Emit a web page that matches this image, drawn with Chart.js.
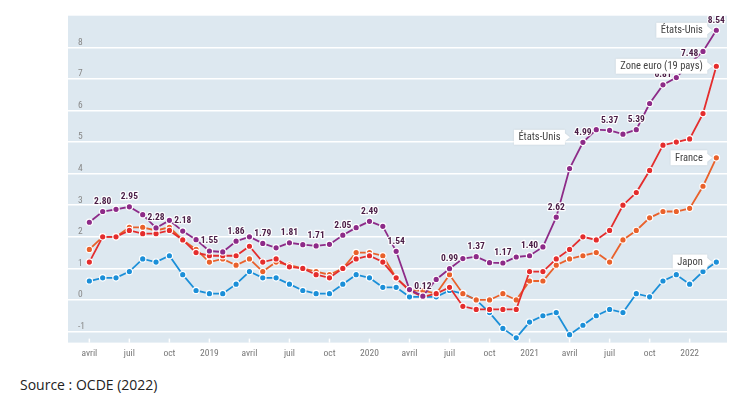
<!DOCTYPE html>
<html>
<head>
<meta charset="utf-8">
<script src="https://cdn.jsdelivr.net/npm/chart.js@4"></script>
<style>
  body { margin: 0; background: #fff; width: 752px; height: 396px; overflow: hidden; position: relative; }
  #wrap { position: absolute; left: 0; top: 0; width: 752px; height: 372px; }
  #source { position: absolute; left: 20px; top: 375px; font: 14px "Open Sans", sans-serif; color: #222; }
</style>
</head>
<body>
<div id="wrap"><canvas id="inflationChart" width="752" height="372"></canvas></div>
<div id="source">Source : OCDE (2022)</div>
<script>
// monthly, avril 2018 -> mars 2022
const months = Array.from({ length: 48 }, (_, i) => i);
const tickLabels = ['avril', 'juil', 'oct', '2019', 'avril', 'juil', 'oct', '2020',
  'avril', 'juil', 'oct', '2021', 'avril', 'juil', 'oct', '2022'];

const usa = [2.46, 2.80, 2.87, 2.95, 2.70, 2.28, 2.52, 2.18, 1.91,
  1.55, 1.52, 1.86, 2.00, 1.79, 1.65, 1.81, 1.75, 1.71, 1.76, 2.05, 2.29,
  2.49, 2.33, 1.54, 0.33, 0.12, 0.65, 0.99, 1.31, 1.37, 1.18, 1.17, 1.36,
  1.40, 1.68, 2.62, 4.16, 4.99, 5.39, 5.37, 5.25, 5.39, 6.22, 6.81, 7.04,
  7.48, 7.87, 8.54];
const euro = [1.2, 2.0, 2.0, 2.2, 2.1, 2.1, 2.2, 1.9, 1.5,
  1.4, 1.4, 1.4, 1.7, 1.2, 1.3, 1.05, 1.0, 0.8, 0.7, 1.0, 1.3,
  1.4, 1.2, 0.7, 0.3, 0.1, 0.2, 0.4, -0.2, -0.3, -0.3, -0.3, -0.3,
  0.9, 0.9, 1.3, 1.6, 2.0, 1.9, 2.2, 3.0, 3.4, 4.1, 4.9, 5.0,
  5.1, 5.9, 7.4];
const france = [1.6, 2.0, 2.0, 2.3, 2.3, 2.2, 2.3, 1.9, 1.6,
  1.2, 1.3, 1.1, 1.3, 0.9, 1.2, 1.1, 1.0, 0.9, 0.8, 1.0, 1.5,
  1.5, 1.4, 0.7, 0.3, 0.3, 0.2, 0.8, 0.2, 0.0, 0.0, 0.2, 0.0,
  0.6, 0.6, 1.1, 1.3, 1.4, 1.5, 1.2, 1.9, 2.2, 2.6, 2.8, 2.8,
  2.9, 3.6, 4.5];
const japan = [0.6, 0.7, 0.7, 0.9, 1.3, 1.2, 1.4, 0.8, 0.3,
  0.2, 0.2, 0.5, 0.9, 0.7, 0.7, 0.5, 0.3, 0.2, 0.2, 0.5, 0.8,
  0.7, 0.4, 0.4, 0.1, 0.1, 0.1, 0.3, 0.2, 0.0, -0.4, -0.9, -1.2,
  -0.7, -0.5, -0.4, -1.1, -0.8, -0.5, -0.3, -0.4, 0.2, 0.1, 0.6, 0.8,
  0.5, 0.9, 1.2];

// US values written on the chart (every other month)
const usLabelIdx = [1, 3, 5, 7, 9, 11, 13, 15, 17, 19, 21, 23, 25, 27, 29, 31,
  33, 35, 37, 39, 41, 43, 45, 47];

const seriesNames = ['États-Unis', 'Zone euro (19 pays)', 'France', 'Japon'];
const colors = ['#8d2b88', '#e42d2d', '#e9612b', '#1b8fd8'];

const bgColor = '#dde8f0';
const narrow = '"Liberation Sans Narrow", "Roboto Condensed", Roboto, sans-serif';

const toXY = arr => arr.map((v, i) => ({ x: months[i], y: v }));

const bgPlugin = {
  id: 'bg',
  beforeDraw(chart) {
    const { ctx, chartArea: a } = chart;
    ctx.save();
    ctx.fillStyle = bgColor;
    ctx.fillRect(a.left, a.top, a.right - a.left, a.bottom - a.top);
    ctx.restore();
  },
  beforeDatasetsDraw(chart) {
    const { ctx, chartArea: a, scales } = chart;
    ctx.save();
    ctx.strokeStyle = '#fff';
    ctx.lineWidth = 1.5;
    scales.x.ticks.forEach(t => {
      const px = scales.x.getPixelForValue(t.value);
      ctx.beginPath();
      ctx.moveTo(px, a.bottom - 4);
      ctx.lineTo(px, a.bottom);
      ctx.stroke();
    });
    ctx.restore();
  }
};

function drawCallout(ctx, text, tipX, tipY) {
  ctx.font = '10.5px ' + narrow;
  const w = ctx.measureText(text).width + 9;
  const h = 15;
  const right = tipX - 5;
  const left = right - w;
  ctx.save();
  ctx.shadowColor = 'rgba(0,0,0,0.12)';
  ctx.shadowBlur = 2;
  ctx.fillStyle = '#fff';
  ctx.beginPath();
  ctx.moveTo(left, tipY - h / 2);
  ctx.lineTo(right, tipY - h / 2);
  ctx.lineTo(right, tipY - 4);
  ctx.lineTo(tipX, tipY);
  ctx.lineTo(right, tipY + 4);
  ctx.lineTo(right, tipY + h / 2);
  ctx.lineTo(left, tipY + h / 2);
  ctx.closePath();
  ctx.fill();
  ctx.restore();
  ctx.fillStyle = '#444';
  ctx.textAlign = 'left';
  ctx.textBaseline = 'middle';
  ctx.fillText(text, left + 4.5, tipY + 0.5);
}

const labelPlugin = {
  id: 'labels',
  afterDatasetsDraw(chart) {
    const ctx = chart.ctx;
    const usPts = chart.getDatasetMeta(0).data;
    ctx.save();
    ctx.font = 'bold 9.5px ' + narrow;
    ctx.textAlign = 'center';
    ctx.textBaseline = 'middle';
    ctx.lineJoin = 'round';
    usLabelIdx.forEach(i => {
      const p = usPts[i];
      const txt = usa[i].toFixed(2);
      ctx.strokeStyle = 'rgba(255,255,255,0.9)';
      ctx.lineWidth = 2.5;
      ctx.strokeText(txt, p.x, p.y - 10);
      ctx.fillStyle = '#4a1c45';
      ctx.fillText(txt, p.x, p.y - 10);
    });

    // series name callouts
    const last = months.length - 1;
    seriesNames.forEach((name, d) => {
      const p = chart.getDatasetMeta(d).data[last];
      drawCallout(ctx, name, p.x - 4, p.y);
    });
    const mid = usPts[37];
    drawCallout(ctx, seriesNames[0], mid.x - 13, mid.y - 5);
    ctx.restore();
  }
};

const datasets = [usa, euro, france, japan].map((arr, d) => ({
  label: seriesNames[d],
  data: toXY(arr),
  borderColor: colors[d],
  backgroundColor: colors[d],
  borderWidth: 1.8,
  pointRadius: 3.2,
  pointBorderWidth: 1.2,
  pointBorderColor: '#fff',
  pointBackgroundColor: colors[d],
  tension: 0
}));

new Chart(document.getElementById('inflationChart'), {
  type: 'line',
  data: { datasets },
  options: {
    responsive: false,
    animation: false,
    devicePixelRatio: 1,
    // the mirrored y axis still reserves 2 x its tick padding
    layout: { padding: { left: 48, right: 25, top: 15, bottom: 8 } },
    plugins: { legend: { display: false }, tooltip: { enabled: false } },
    scales: {
      x: {
        type: 'linear',
        min: -1.6,
        max: 47.8,
        grid: { display: false, drawTicks: false },
        border: { display: false },
        ticks: {
          stepSize: 3,
          autoSkip: false,
          maxRotation: 0,
          includeBounds: false,
          padding: 5,
          color: '#777',
          font: { size: 9.5, family: narrow },
          callback: v => tickLabels[v / 3] ?? ''
        }
      },
      y: {
        min: -1.35,
        max: 9,
        grid: {
          color: c => (c.tick && c.tick.value === 9 ? 'rgba(0,0,0,0)' : '#fff'),
          lineWidth: 1.5,
          drawTicks: false
        },
        border: { display: false },
        ticks: {
          stepSize: 1,
          includeBounds: false,
          mirror: true,
          padding: 10,
          labelOffset: -5,
          color: '#888',
          font: { size: 9.5, family: narrow },
          callback: v => (v === 9 ? '' : String(v))
        }
      }
    }
  },
  plugins: [bgPlugin, labelPlugin]
});
</script>
</body>
</html>
